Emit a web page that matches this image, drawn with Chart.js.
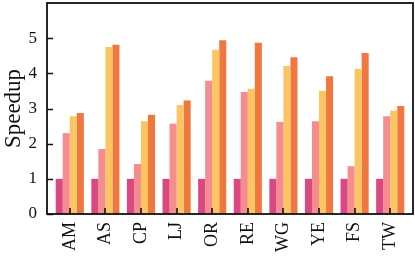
<!DOCTYPE html>
<html>
<head>
<meta charset="utf-8">
<script src="https://cdn.jsdelivr.net/npm/chart.js@4/dist/chart.umd.min.js"></script>
<style>
  html, body { margin: 0; padding: 0; background: #fff; }
  #wrap { width: 415px; height: 262px; position: relative; }
</style>
</head>
<body>
<div id="wrap"><canvas id="c"></canvas></div>
<script>
const categories = ["AM", "AS", "CP", "LJ", "OR", "RE", "WG", "YE", "FS", "TW"];
const seriesBase = [1, 1, 1, 1, 1, 1, 1, 1, 1, 1];
const seriesPink = [2.30, 1.85, 1.42, 2.57, 3.79, 3.47, 2.62, 2.64, 1.36, 2.78];
const seriesYellow = [2.78, 4.75, 2.64, 3.10, 4.67, 3.56, 4.21, 3.50, 4.13, 2.94];
const seriesOrange = [2.87, 4.81, 2.82, 3.23, 4.94, 4.87, 4.46, 3.92, 4.58, 3.07];
const yTickValues = [0, 1, 2, 3, 4, 5];

const colors = ["#db4780", "#f58d8e", "#fdc562", "#f07840"];
const FONT = "'Liberation Serif', 'DejaVu Serif', serif";

function toPoints(vals) { return vals.map((v, i) => ({ x: i, y: v })); }

const innerTicks = {
  id: 'innerTicks',
  afterDatasetsDraw(chart) {
    const { ctx, chartArea: a, scales } = chart;
    ctx.save();
    ctx.strokeStyle = '#111';
    ctx.lineWidth = 1.6;
    ctx.beginPath();
    yTickValues.forEach(v => {
      const y = Math.round(scales.y.getPixelForValue(v)) + 0.5;
      ctx.moveTo(a.left, y); ctx.lineTo(a.left + 6, y);
    });
    categories.forEach((c, i) => {
      const x = Math.round(scales.x.getPixelForValue(i));
      ctx.moveTo(x, a.bottom); ctx.lineTo(x, a.bottom - 6);
    });
    ctx.stroke();
    ctx.lineWidth = 1.8;
    ctx.strokeRect(a.left, a.top, a.right - a.left, a.bottom - a.top);
    ctx.restore();
  }
};

new Chart(document.getElementById('c'), {
  type: 'bar',
  data: {
    datasets: [seriesBase, seriesPink, seriesYellow, seriesOrange].map((s, k) => ({
      data: toPoints(s),
      backgroundColor: colors[k],
      borderWidth: 0,
      categoryPercentage: 0.79,
      barPercentage: 1.0
    }))
  },
  options: {
    responsive: true,
    maintainAspectRatio: false,
    animation: false,
    devicePixelRatio: 1,
    layout: { padding: { top: 3, right: 2, left: 0, bottom: 0 } },
    plugins: { legend: { display: false }, tooltip: { enabled: false } },
    scales: {
      x: {
        type: 'linear',
        offset: false,
        min: -0.64,
        max: 9.64,
        grid: { display: false, drawTicks: false },
        border: { display: false },
        afterBuildTicks(scale) { scale.ticks = categories.map((c, i) => ({ value: i })); },
        afterFit(scale) { scale.height = 48; scale.paddingLeft = 0; scale.paddingRight = 0; },
        ticks: {
          autoSkip: false,
          minRotation: 90,
          maxRotation: 90,
          padding: 8,
          color: '#111',
          font: { family: FONT, size: 18 },
          callback: (v) => categories[v]
        }
      },
      y: {
        min: 0,
        max: 6,
        grid: { display: false, drawTicks: false },
        border: { display: false },
        afterBuildTicks(scale) { scale.ticks = yTickValues.map(v => ({ value: v })); },
        afterFit(scale) { scale.width = 47; scale.paddingTop = 0; scale.paddingBottom = 0; },
        ticks: {
          padding: 10,
          color: '#111',
          font: { family: FONT, size: 17 }
        },
        title: {
          display: true,
          text: 'Speedup',
          color: '#111',
          padding: { top: 0, bottom: 0 },
          font: { family: FONT, size: 23 }
        }
      }
    }
  },
  plugins: [innerTicks]
});
</script>
</body>
</html>
